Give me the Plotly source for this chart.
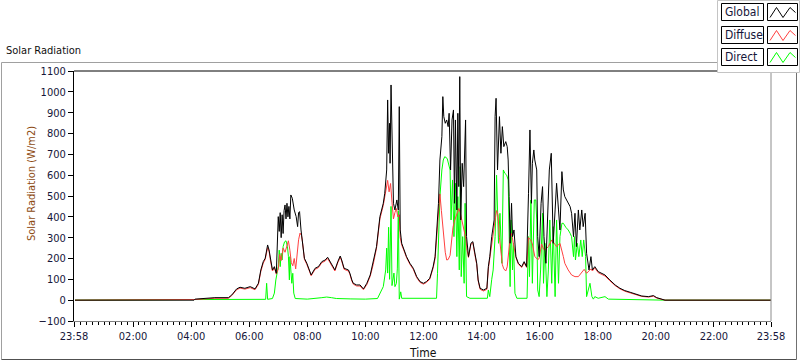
import plotly.graph_objects as go
import pandas as pd

# ---------------- data ----------------
DAY = "2024-06-01"
PREV_DAY = "2024-05-31"

global_time = ["00:00", "04:06", "04:08", "04:30", "04:49", "05:17", "05:24", "05:34", "05:41", "05:51",
               "06:02", "06:12", "06:19", "06:24", "06:29", "06:33", "06:38", "06:41", "06:44", "06:48",
               "06:52", "06:56", "07:00", "07:02", "07:04", "07:06", "07:08", "07:10", "07:12", "07:14",
               "07:16", "07:18", "07:20", "07:22", "07:24", "07:26", "07:29", "07:33", "07:37", "07:40",
               "07:42", "07:44", "07:47", "07:50", "07:54", "07:59", "08:08", "08:16", "08:23", "08:30",
               "08:37", "08:42", "08:47", "08:54", "08:57", "09:03", "09:08", "09:11", "09:16", "09:25",
               "09:28", "09:32", "09:35", "09:42", "09:49", "09:56", "10:03", "10:10", "10:16", "10:23",
               "10:30", "10:37", "10:40", "10:44", "10:46", "10:48", "10:50", "10:51", "10:53", "10:56",
               "10:58", "11:01", "11:05", "11:08", "11:10", "11:12", "11:15", "11:20", "11:25", "11:32",
               "11:39", "11:46", "11:53", "12:00", "12:06", "12:13", "12:20", "12:24", "12:27", "12:31",
               "12:34", "12:38", "12:40", "12:42", "12:45", "12:48", "12:51", "12:53", "12:56", "12:59",
               "13:02", "13:04", "13:06", "13:09", "13:11", "13:13", "13:15", "13:17", "13:20", "13:23",
               "13:27", "13:29", "13:33", "13:38", "13:42", "13:46", "13:50", "13:53", "13:57", "14:04",
               "14:11", "14:14", "14:17", "14:21", "14:26", "14:28", "14:30", "14:33", "14:37", "14:40",
               "14:43", "14:46", "14:50", "14:53", "14:55", "14:57", "14:59", "15:02", "15:04", "15:07",
               "15:11", "15:16", "15:23", "15:28", "15:33", "15:37", "15:40", "15:43", "15:45", "15:48",
               "15:50", "15:54", "15:56", "15:59", "16:03", "16:06", "16:09", "16:13", "16:17", "16:20",
               "16:24", "16:26", "16:28", "16:32", "16:35", "16:39", "16:42", "16:46", "16:49", "16:52",
               "16:58", "17:03", "17:06", "17:10", "17:13", "17:16", "17:20", "17:23", "17:27", "17:30",
               "17:34", "17:37", "17:42", "17:46", "17:49", "17:54", "18:01", "18:08", "18:15", "18:25",
               "18:36", "18:46", "18:56", "19:07", "19:17", "19:31", "19:45", "19:55", "20:02", "20:12",
               "20:19", "23:58"]
global_wm2 = [0, 0, 5, 8, 12, 12, 25, 54, 62, 57,
              65, 54, 81, 145, 185, 201, 265, 241, 193, 145,
              161, 129, 401, 330, 420, 300, 410, 320, 430, 457,
              390, 465, 400, 450, 390, 505, 489, 433, 401, 353,
              420, 425, 337, 289, 201, 177, 121, 153, 161, 185,
              193, 206, 185, 153, 145, 185, 212, 193, 153, 145,
              129, 97, 81, 73, 73, 54, 81, 121, 177, 257,
              401, 465, 513, 625, 961, 705, 849, 657, 1033, 625,
              465, 433, 481, 433, 929, 337, 273, 241, 209, 177,
              153, 113, 89, 81, 89, 105, 161, 209, 337, 465,
              673, 785, 977, 881, 849, 865, 833, 897, 625, 865,
              913, 465, 865, 433, 897, 545, 1073, 385, 657, 545,
              865, 305, 209, 273, 281, 225, 177, 97, 57, 49,
              57, 161, 209, 305, 385, 881, 969, 625, 881, 705,
              833, 737, 761, 737, 673, 497, 273, 465, 305, 337,
              209, 177, 161, 185, 161, 513, 817, 465, 657, 721,
              673, 625, 305, 209, 465, 545, 305, 177, 401, 625,
              705, 465, 273, 433, 561, 433, 337, 617, 529, 497,
              473, 449, 417, 305, 417, 257, 433, 337, 433, 353,
              417, 225, 145, 209, 145, 161, 137, 129, 121, 97,
              73, 57, 46, 38, 30, 20, 17, 22, 12, 7,
              0, 0]

diffuse_time = ["00:00", "04:06", "04:08", "04:49", "05:17", "05:24", "05:34", "05:41", "05:51", "06:02",
                "06:12", "06:19", "06:24", "06:29", "06:33", "06:38", "06:41", "06:44", "06:48", "06:52",
                "06:56", "07:00", "07:03", "07:06", "07:10", "07:14", "07:18", "07:21", "07:24", "07:27",
                "07:30", "07:33", "07:36", "07:39", "07:42", "07:45", "07:48", "07:50", "07:54", "07:59",
                "08:08", "08:16", "08:23", "08:30", "08:37", "08:42", "08:47", "08:54", "08:57", "09:03",
                "09:08", "09:11", "09:16", "09:25", "09:28", "09:32", "09:35", "09:42", "09:49", "09:56",
                "10:03", "10:10", "10:16", "10:23", "10:30", "10:37", "10:40", "10:43", "10:46", "10:49",
                "10:52", "10:55", "10:58", "11:01", "11:04", "11:07", "11:10", "11:12", "11:15", "11:20",
                "11:25", "11:32", "11:39", "11:46", "11:53", "12:00", "12:06", "12:13", "12:20", "12:24",
                "12:27", "12:31", "12:34", "12:37", "12:40", "12:42", "12:45", "12:48", "12:51", "12:55",
                "12:58", "13:01", "13:04", "13:07", "13:10", "13:13", "13:16", "13:19", "13:22", "13:25",
                "13:28", "13:30", "13:33", "13:38", "13:42", "13:46", "13:50", "13:53", "13:57", "14:04",
                "14:11", "14:14", "14:17", "14:21", "14:26", "14:29", "14:31", "14:34", "14:37", "14:40",
                "14:43", "14:46", "14:50", "14:53", "14:55", "14:57", "14:59", "15:02", "15:04", "15:07",
                "15:11", "15:16", "15:23", "15:28", "15:33", "15:37", "15:41", "15:45", "15:50", "15:56",
                "15:59", "16:04", "16:08", "16:11", "16:18", "16:25", "16:30", "16:35", "16:42", "16:46",
                "16:49", "16:52", "16:59", "17:06", "17:13", "17:20", "17:27", "17:32", "17:37", "17:42",
                "17:46", "17:49", "17:54", "18:01", "18:08", "18:15", "18:25", "18:36", "18:46", "18:56",
                "19:07", "19:17", "19:31", "19:45", "19:55", "20:02", "20:12", "20:19", "23:58"]
diffuse_wm2 = [0, 0, 3, 9, 9, 22, 50, 58, 53, 60,
               50, 76, 138, 178, 195, 252, 235, 188, 140, 155,
               125, 150, 220, 190, 250, 230, 270, 285, 240, 180,
               165, 200, 150, 230, 290, 322, 310, 280, 196, 172,
               117, 148, 156, 180, 188, 200, 180, 148, 140, 180,
               206, 188, 148, 140, 124, 92, 77, 68, 68, 50,
               75, 115, 170, 250, 390, 455, 490, 540, 575, 520,
               560, 470, 390, 420, 440, 400, 410, 300, 265, 236,
               204, 172, 148, 108, 85, 77, 85, 100, 155, 200,
               300, 420, 510, 430, 360, 290, 230, 193, 195, 215,
               300, 350, 380, 400, 420, 440, 420, 390, 360, 330,
               290, 240, 205, 268, 276, 220, 172, 92, 52, 44,
               52, 150, 200, 290, 360, 400, 430, 410, 300, 230,
               170, 150, 140, 160, 220, 280, 300, 320, 290, 260,
               205, 173, 157, 180, 157, 300, 290, 270, 210, 195,
               200, 270, 245, 241, 257, 289, 273, 257, 273, 241,
               209, 177, 145, 121, 113, 113, 137, 148, 129, 140,
               150, 140, 155, 132, 124, 116, 93, 70, 54, 43,
               35, 28, 18, 15, 19, 10, 5, 0, 0]

direct_time = ["00:00", "04:06", "04:08", "06:34", "06:36", "06:38", "06:48", "06:52", "06:55", "07:00",
               "07:02", "07:04", "07:06", "07:08", "07:10", "07:13", "07:16", "07:19", "07:21", "07:23",
               "07:24", "07:26", "07:28", "07:30", "07:32", "07:35", "08:00", "08:30", "08:40", "08:50",
               "09:00", "09:30", "10:00", "10:25", "10:30", "10:37", "10:42", "10:44", "10:46", "10:48",
               "10:50", "10:53", "10:55", "10:57", "10:59", "11:01", "11:04", "11:06", "11:08", "11:10",
               "11:13", "11:15", "12:27", "12:29", "12:31", "12:34", "12:38", "12:41", "12:44", "12:49",
               "12:55", "12:57", "13:00", "13:03", "13:06", "13:09", "13:11", "13:14", "13:16", "13:18",
               "13:21", "13:24", "13:26", "13:29", "13:36", "14:12", "14:14", "14:17", "14:21", "14:24",
               "14:28", "14:31", "14:35", "14:38", "14:42", "14:45", "14:48", "14:52", "14:55", "14:57",
               "14:59", "15:01", "15:04", "15:06", "15:09", "15:13", "15:34", "15:37", "15:39", "15:42",
               "15:45", "15:49", "15:52", "15:54", "15:56", "15:59", "16:02", "16:06", "16:08", "16:11",
               "16:15", "16:18", "16:21", "16:25", "16:28", "16:32", "16:35", "16:39", "16:42", "16:46",
               "16:49", "16:54", "16:59", "17:03", "17:06", "17:10", "17:12", "17:14", "17:18", "17:21",
               "17:25", "17:28", "17:31", "17:35", "17:37", "17:44", "17:48", "17:51", "17:54", "18:01",
               "18:08", "18:15", "18:22", "20:19", "20:20", "23:58"]
direct_wm2 = [0, 0, 3, 4, 81, 4, 8, 34, 97, 161,
              240, 161, 225, 193, 257, 280, 285, 257, 209, 97,
              209, 145, 81, 129, 34, 8, 5, 12, 15, 12,
              8, 6, 5, 8, 33, 65, 145, 250, 130, 350,
              100, 450, 70, 100, 130, 65, 80, 150, 430, 5,
              40, 9, 9, 129, 337, 497, 625, 673, 689, 680,
              625, 385, 577, 305, 561, 209, 497, 145, 641, 113,
              305, 81, 465, 17, 9, 9, 49, 17, 100, 145,
              305, 600, 273, 417, 177, 625, 609, 600, 577, 305,
              65, 385, 145, 273, 33, 9, 9, 305, 113, 481,
              81, 481, 481, 385, 49, 17, 145, 417, 81, 273,
              17, 145, 385, 81, 353, 17, 385, 81, 305, 369,
              369, 350, 337, 321, 305, 209, 305, 193, 273, 209,
              289, 209, 289, 209, 17, 81, 17, 5, 17, 9,
              14, 17, 5, 3, 0, 0]

series_names = ["Global", "Diffuse", "Direct"]
x_tick_labels = ["23:58", "02:00", "04:00", "06:00", "08:00", "10:00", "12:00",
                 "14:00", "16:00", "18:00", "20:00", "22:00", "23:58"]
y_ticks = list(range(-100, 1101, 100))

# ---------------- styles ----------------
COLORS = {"Global": "#000000", "Diffuse": "#ff4040", "Direct": "#00ff00"}
FONT = "DejaVu Sans Condensed, Liberation Sans, Arial, sans-serif"
TEXT = "#16163a"
L, R, T, B = 74, 29, 71, 40
W, H = 800, 361
PW, PH = W - L - R, H - T - B


def X(px):
    return (px - L) / PW


def Y(py):
    return (T + PH - py) / PH


def stamp(times):
    return pd.to_datetime([f"{DAY} {t}" for t in times])


fig = go.Figure()
series = {
    "Direct": (direct_time, direct_wm2),
    "Diffuse": (diffuse_time, diffuse_wm2),
    "Global": (global_time, global_wm2),
}
for name, (tt, vv) in series.items():
    fig.add_trace(go.Scatter(x=stamp(tt), y=vv, mode="lines", name=name,
                             line=dict(color=COLORS[name], width=1), showlegend=False,
                             hoverinfo="skip"))

tickvals = [f"{PREV_DAY} {x_tick_labels[0]}"] + [f"{DAY} {t}" for t in x_tick_labels[1:]]
minor_vals = list(pd.date_range(f"{DAY} 00:00", f"{DAY} 23:48", freq="12min"))

fig.update_layout(
    width=W, height=H,
    margin=dict(l=L, r=R, t=T, b=B),
    paper_bgcolor="white", plot_bgcolor="white",
    showlegend=False,
    font=dict(family=FONT, size=11, color=TEXT),
    xaxis=dict(type="date", range=[tickvals[0], tickvals[-1]],
               tickmode="array", tickvals=tickvals, ticktext=x_tick_labels,
               ticks="outside", ticklen=5, tickcolor="black", tickwidth=1,
               showline=True, linecolor="#808080", linewidth=1,
               showgrid=False, zeroline=False,
               tickfont=dict(size=11, color=TEXT),
               minor=dict(tickmode="array", tickvals=minor_vals, ticks="outside",
                          ticklen=3, tickcolor="black", tickwidth=1, showgrid=False)),
    yaxis=dict(range=[-100, 1100], tickmode="array", tickvals=y_ticks,
               ticks="outside", ticklen=5, tickcolor="black", tickwidth=1,
               showline=True, linecolor="black", linewidth=1,
               showgrid=False, zeroline=False,
               tickfont=dict(size=11, color=TEXT)),
)

shapes = []
# plot frame: top black, right gray
shapes.append(dict(type="line", xref="paper", yref="paper", x0=0, x1=1, y0=1, y1=1,
                   line=dict(color="black", width=1)))
shapes.append(dict(type="line", xref="paper", yref="paper", x0=1, x1=1, y0=0, y1=1,
                   line=dict(color="#8c8c8c", width=1)))
# outer panel frame
shapes.append(dict(type="line", xref="paper", yref="paper", x0=X(1.5), x1=X(717.5), y0=Y(62.5), y1=Y(62.5),
                   line=dict(color="#a0a0a0", width=1)))
shapes.append(dict(type="line", xref="paper", yref="paper", x0=X(1.5), x1=X(1.5), y0=Y(62.5), y1=Y(359.5),
                   line=dict(color="#a0a0a0", width=1)))
shapes.append(dict(type="line", xref="paper", yref="paper", x0=X(1.5), x1=X(796.5), y0=Y(359.5), y1=Y(359.5),
                   line=dict(color="#505050", width=1)))
shapes.append(dict(type="line", xref="paper", yref="paper", x0=X(796.5), x1=X(796.5), y0=Y(72.5), y1=Y(359.5),
                   line=dict(color="#707070", width=1)))
# legend panel
shapes.append(dict(type="rect", xref="paper", yref="paper", x0=X(717.5), x1=X(799.5), y0=Y(0.5), y1=Y(72.5),
                   line=dict(color="#c4c4c4", width=1), fillcolor="white"))

annotations = []
row_tops = [3.5, 26.5, 48.5]
for name, top in zip(series_names, row_tops):
    bot = top + 17
    shapes.append(dict(type="rect", xref="paper", yref="paper", x0=X(721.5), x1=X(763.5),
                       y0=Y(top), y1=Y(bot), line=dict(color="black", width=1), fillcolor="white"))
    shapes.append(dict(type="rect", xref="paper", yref="paper", x0=X(767.5), x1=X(797.5),
                       y0=Y(top), y1=Y(bot), line=dict(color="black", width=1), fillcolor="white"))
    pts = [(770, bot - 3), (776.5, top + 4), (783, bot - 3), (790, top + 4), (795.5, top + 9)]
    path = "M " + " L ".join(f"{X(a):.5f},{Y(b):.5f}" for a, b in pts)
    shapes.append(dict(type="path", xref="paper", yref="paper", path=path,
                       line=dict(color=COLORS[name], width=1)))
    annotations.append(dict(text=name, xref="paper", yref="paper", x=X(723), y=Y((top + bot) / 2),
                            xanchor="left", yanchor="middle", showarrow=False,
                            font=dict(size=12, color=TEXT, family=FONT)))

annotations.append(dict(text="Solar Radiation", xref="paper", yref="paper", x=X(4), y=Y(51),
                        xanchor="left", yanchor="middle", showarrow=False,
                        font=dict(size=11, color="#101010", family=FONT)))
annotations.append(dict(text="Solar Radiation (W/m2)", xref="paper", yref="paper", x=X(31), y=Y(184),
                        xanchor="center", yanchor="middle", textangle=-90, showarrow=False,
                        font=dict(size=11, color="#8c4a10", family=FONT)))
annotations.append(dict(text="Time", xref="paper", yref="paper", x=X(423), y=Y(353),
                        xanchor="center", yanchor="middle", showarrow=False,
                        font=dict(size=12, color="#101010", family=FONT)))

fig.update_layout(shapes=shapes, annotations=annotations)
fig.write_html("out.html", config={"displayModeBar": False},
               post_script="document.body.style.margin='0px';document.body.style.overflow='hidden';")
